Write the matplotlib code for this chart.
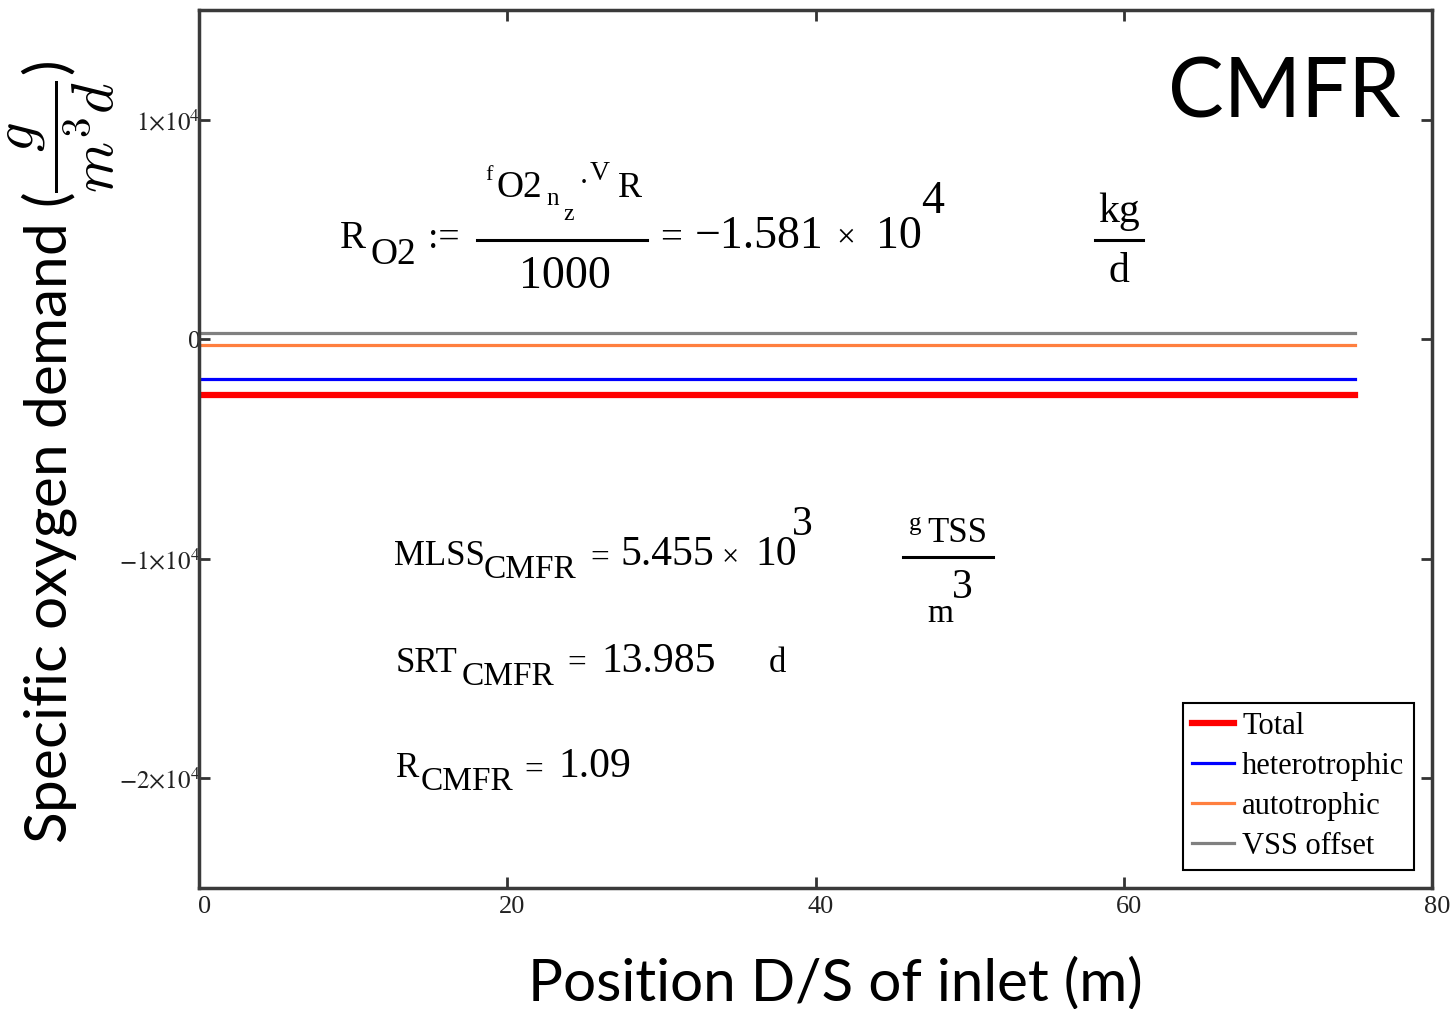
import numpy as np
import matplotlib
matplotlib.use('Agg')
import matplotlib.pyplot as plt
from matplotlib.lines import Line2D
from matplotlib.transforms import ScaledTranslation

# data
position = [0, 75]
total = [-2520, -2520]
heterotrophic = [-1800, -1800]
autotrophic = [-240, -240]
vss_offset = [300, 300]

series_names = ['Total', 'heterotrophic', 'autotrophic', 'VSS offset']
x_ticks = [0, 20, 40, 60, 80]
y_ticks = [-2e4, -1e4, 0, 1e4]
y_tick_labels = [r'$-2{\times}10^{4}$', r'$-1{\times}10^{4}$', '0', r'$1{\times}10^{4}$']

# Mathcad worksheet pieces: text, left x px, baseline y px, size
worksheet = [
    ('R', 340, 248, 28), ('O2', 370, 264, 27), (':=', 428, 248, 27),
    ('f', 485, 180, 16), ('O2', 497, 197, 27), ('n', 546, 205, 18), ('z', 563, 220, 17),
    ('\u00b7', 579, 192, 22), ('V', 590, 180, 20), ('R', 618, 197, 26),
    ('1000', 519, 288, 33),
    ('=', 660, 248, 28), ('\u22121.581', 695, 248, 33), ('\u00d7', 836, 246, 24),
    ('10', 876, 248, 33), ('4', 921, 213, 33),
    ('MLSS', 394, 565, 25), ('CMFR', 484, 578, 24), ('=', 590, 567, 24),
    ('5.455', 620, 565, 30), ('\u00d7', 722, 565, 22), ('10', 755, 565, 30), ('3', 792, 535, 30),
    ('g', 909, 530, 18), ('TSS', 927, 542, 25), ('3', 952, 598, 30), ('m', 927, 622, 24),
    ('SRT', 396, 672, 25), ('CMFR', 462, 685, 24), ('=', 567, 672, 24),
    ('13.985', 601, 672, 30), ('d', 769, 672, 25),
    ('R', 396, 777, 25), ('CMFR', 421, 790, 24), ('=', 524, 779, 24), ('1.09', 558, 777, 30),
]
# unit fractions: numerator, denominator centred on x
unit_fracs = [('kg', 'd', 1119, 222, 282, 30)]
frac_bars = [(477, 647, 240), (1095, 1143, 240), (903, 993, 557)]

plt.rcParams['font.family'] = ['Liberation Serif', 'DejaVu Serif']
plt.rcParams['mathtext.fontset'] = 'stix'

W, H = 1453, 1009
fig = plt.figure(figsize=(W / 100, H / 100), dpi=100)
ax = fig.add_axes([199.3 / W, 1 - 888 / H, 1232.7 / W, 878 / H])


def fx(x):
    return x / W


def fy(y):
    return 1 - y / H


ax.plot(position, vss_offset, color='#808080', lw=2.3, solid_capstyle='projecting', label=series_names[3])
ax.plot(position, autotrophic, color='#ff7f3f', lw=2.3, solid_capstyle='projecting', label=series_names[2])
ax.plot(position, heterotrophic, color='#0000ff', lw=2.3, solid_capstyle='projecting', label=series_names[1])
ax.plot(position, total, color='#ff0000', lw=4.5, solid_capstyle='projecting', label=series_names[0])

ax.set_xlim(0, 80)
ax.set_ylim(-2.5e4, 1.5e4)
ax.set_xticks(x_ticks)
ax.set_yticks(y_ticks)
ax.set_yticklabels(y_tick_labels)
ax.tick_params(direction='in', length=8, width=2, top=True, right=True,
               colors='#333333', labelcolor='#222222')
ax.tick_params(axis='x', pad=6, labelsize=19)
ax.tick_params(axis='y', pad=-1, labelsize=18)
for lbl in ax.get_xticklabels():
    lbl.set_transform(lbl.get_transform() + ScaledTranslation(0.05, 0, fig.dpi_scale_trans))
for s in ax.spines.values():
    s.set_linewidth(2.5)
    s.set_color('#3a3a3a')

# legend, same order as the reference
h, l = ax.get_legend_handles_labels()
leg = ax.legend(h[::-1], l[::-1], loc='lower right', bbox_to_anchor=(0.985, 0.0205),
                prop={'family': 'Liberation Serif', 'size': 22}, fancybox=False,
                edgecolor='black', framealpha=1, handlelength=1.37, borderaxespad=0,
                labelspacing=0.36, borderpad=0.3, handletextpad=0.26)
leg.get_frame().set_linewidth(1.5)

sans = ['Lato', 'DejaVu Sans']
ax.set_xlabel('Position D/S of inlet (m)', family=sans, fontsize=42, va='baseline')
ax.xaxis.set_label_coords((835 - 199.3) / 1232.7, -112 / 878)
ax.set_ylabel(r'Specific oxygen demand ($\dfrac{g}{m^{3}d}$)', family=sans,
              fontsize=42, math_fontfamily='cm')
ax.yaxis.set_label_coords(-(199.3 - 117) / 1232.7, (888 - 452) / 878)

fig.text(fx(1168), fy(118), 'CMFR', family=sans, fontsize=60, va='baseline')

for txt, x, y, size in worksheet:
    fig.text(fx(x), fy(y), txt, fontsize=size, va='baseline', ha='left')
for num, den, x, y_num, y_den, size in unit_fracs:
    fig.text(fx(x), fy(y_num), num, fontsize=size, va='baseline', ha='center')
    fig.text(fx(x), fy(y_den), den, fontsize=size, va='baseline', ha='center')
for x0, x1, y in frac_bars:
    fig.add_artist(Line2D([fx(x0), fx(x1)], [fy(y), fy(y)], color='black', lw=2.2,
                          transform=fig.transFigure))

fig.savefig('out.png', dpi=100)
